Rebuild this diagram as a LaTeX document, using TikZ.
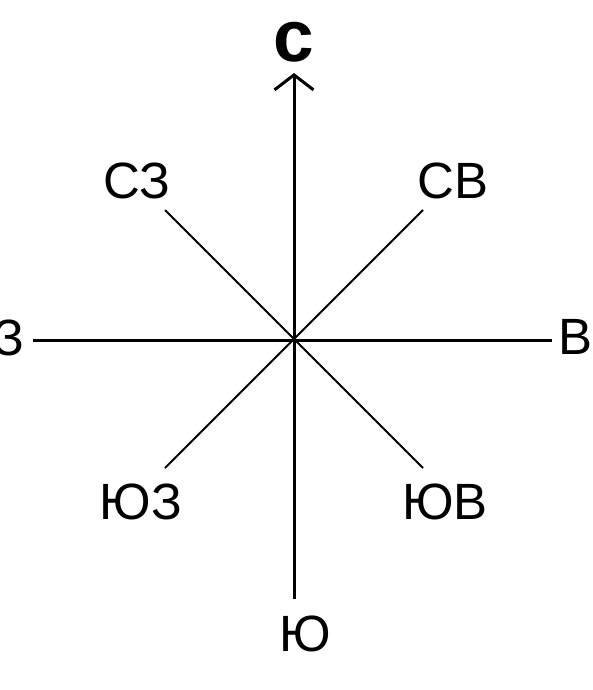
\documentclass[tikz,border=0pt]{standalone}
\usepackage{fontspec}
\setmainfont{Liberation Sans}
\usetikzlibrary{arrows.meta}
\begin{document}
\begin{tikzpicture}[x=1pt,y=-1pt,
  lbl/.style={inner sep=0pt,font=\fontsize{51}{51}\selectfont},
  axis/.style={line width=3pt},
  diag/.style={line width=1.8pt}]
\useasboundingbox (0,0) rectangle (593,690);
\coordinate (O) at (294,340);
\coordinate (Nend) at (294,73);
\coordinate (Send) at (294,599);
\coordinate (Wend) at (33,340);
\coordinate (Eend) at (552,340);
\coordinate (NWend) at (165,210);
\coordinate (NEend) at (423,210);
\coordinate (SWend) at (165,468);
\coordinate (SEend) at (423,468);
\node[lbl,font=\fontsize{73}{73}\selectfont\bfseries] (N) at (294,42) {с};
\node[lbl] (NW) at (137,181) {СЗ};
\node[lbl] (NE) at (453,181) {СВ};
\node[lbl] (W) at (9,338) {З};
\node[lbl] (E) at (575,337) {В};
\node[lbl] (SW) at (141,502) {ЮЗ};
\node[lbl] (SE) at (445,502) {ЮВ};
\node[lbl] (S) at (305,634) {Ю};
\draw[axis,-{Straight Barb[length=15pt,width=39pt,line width=3pt]}] (Send) -- (Nend);
\draw[axis] (Wend) -- (Eend);
\draw[diag] (NWend) -- (SEend);
\draw[diag] (NEend) -- (SWend);
\end{tikzpicture}
\end{document}
